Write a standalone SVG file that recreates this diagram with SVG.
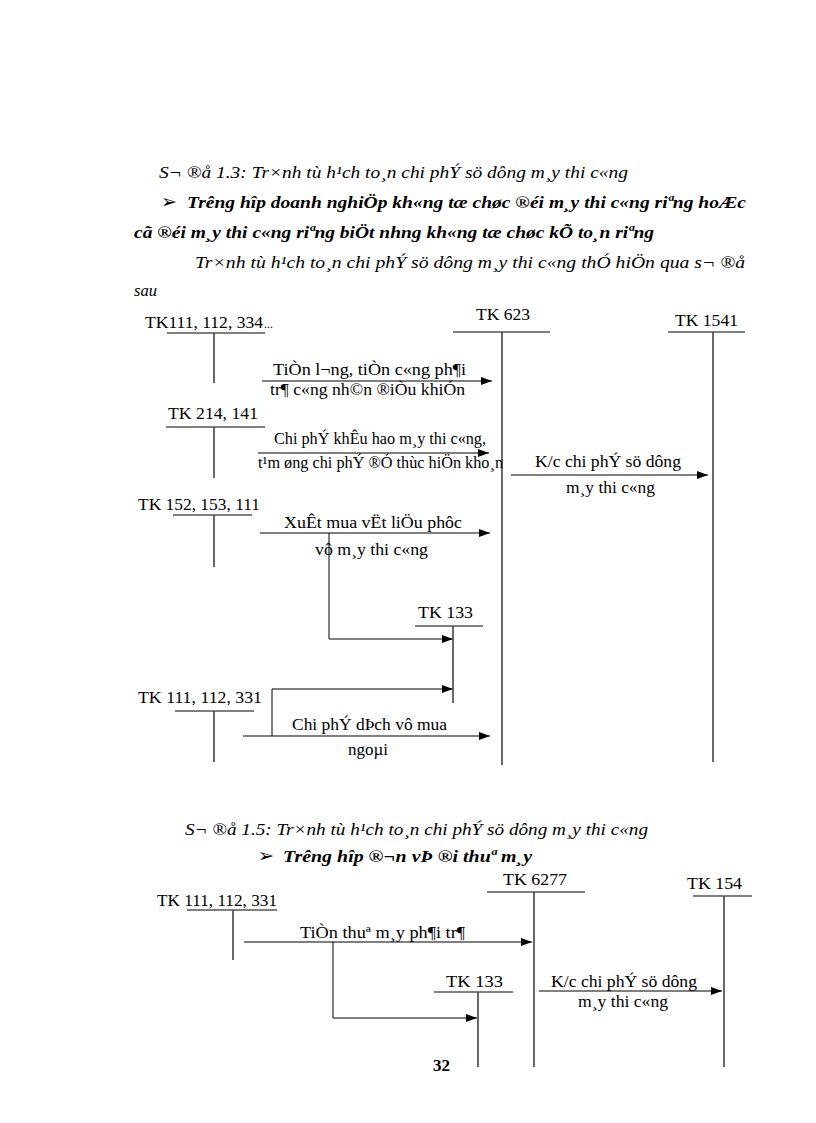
<svg xmlns="http://www.w3.org/2000/svg" width="816" height="1123" viewBox="0 0 816 1123" xml:space="preserve">
<style>
text{font-family:"Liberation Serif","Times New Roman",serif;fill:#000}
.t{font-size:16.5px}
.it{font-size:16.5px;font-style:italic}
.bi{font-size:17px;font-style:italic;font-weight:bold}
.bul{font-family:"DejaVu Sans",sans-serif;font-size:19px}
.ul{stroke:#000;stroke-width:1}
.vl{stroke:#444;stroke-width:1.6}
.ar{stroke:#000;stroke-width:1;fill:none}
.br{stroke:#000;stroke-width:1;fill:none}
</style>
<defs>
<marker id="ah" markerUnits="userSpaceOnUse" markerWidth="12" markerHeight="10" refX="11" refY="4" orient="auto">
<path d="M0,0 L11,4 L0,8 Z" fill="#000"/>
</marker>
</defs>
<rect width="816" height="1123" fill="#fff"/>
<g id="heading1">
<text class="it" x="159" y="178" textLength="469" lengthAdjust="spacingAndGlyphs">S¬ ®å 1.3:  Tr×nh tù h¹ch to¸n chi phÝ sö dông m¸y thi c«ng</text>
<text class="bul" x="161" y="208">➢</text>
<text class="bi" x="187" y="208" textLength="559" lengthAdjust="spacingAndGlyphs">Trêng  hîp doanh nghiÖp kh«ng tæ chøc ®éi m¸y thi c«ng riªng hoÆc</text>
<text class="bi" x="134" y="238" textLength="520" lengthAdjust="spacingAndGlyphs">cã ®éi m¸y thi c«ng riªng biÖt nhng  kh«ng tæ chøc kÕ to¸n riªng</text>
<text class="it" x="195" y="268" textLength="550" lengthAdjust="spacingAndGlyphs">Tr×nh tù h¹ch to¸n chi phÝ sö dông m¸y thi c«ng thÓ hiÖn qua s¬ ®å</text>
<text class="it" x="134" y="296">sau</text>
</g>
<g id="connectors1">
<line class="ar" x1="262" y1="381" x2="492" y2="381" marker-end="url(#ah)"/>
<line class="ar" x1="258" y1="453" x2="489" y2="453" marker-end="url(#ah)"/>
<line class="ar" x1="511" y1="475" x2="708" y2="475" marker-end="url(#ah)"/>
<line class="ar" x1="260" y1="533" x2="490" y2="533" marker-end="url(#ah)"/>
<polyline class="br" points="329,533 329,639 453,639" marker-end="url(#ah)"/>
<polyline class="br" points="272,736 272,689 453,689" marker-end="url(#ah)"/>
<line class="ar" x1="243" y1="736" x2="490" y2="736" marker-end="url(#ah)"/>
</g>
<g id="tk111_112_334">
<text class="t" x="145" y="328" textLength="118" lengthAdjust="spacingAndGlyphs">TK111, 112, 334</text><text x="264" y="328" style="font-size:12px">...</text>
<line class="ul" x1="167" y1="333" x2="265" y2="333"/>
<line class="vl" x1="214" y1="333" x2="214" y2="383"/>
</g>
<g id="tk623">
<text class="t" x="476" y="320" textLength="54" lengthAdjust="spacingAndGlyphs">TK 623</text>
<line class="ul" x1="453" y1="332" x2="550" y2="332"/>
<line class="vl" x1="502" y1="332" x2="502" y2="765"/>
</g>
<g id="tk1541">
<text class="t" x="675" y="326" textLength="63" lengthAdjust="spacingAndGlyphs">TK 1541</text>
<line class="ul" x1="668" y1="332" x2="745" y2="332"/>
<line class="vl" x1="713" y1="332" x2="713" y2="762"/>
</g>
<g id="tk214_141">
<text class="t" x="168" y="419" textLength="90" lengthAdjust="spacingAndGlyphs">TK 214, 141</text>
<line class="ul" x1="166" y1="427" x2="265" y2="427"/>
<line class="vl" x1="214" y1="427" x2="214" y2="478"/>
</g>
<g id="tk152_153_111">
<text class="t" x="138" y="510" textLength="122" lengthAdjust="spacingAndGlyphs">TK 152, 153, 111</text>
<line class="ul" x1="173" y1="515" x2="252" y2="515"/>
<line class="vl" x1="214" y1="515" x2="214" y2="567"/>
</g>
<g id="tk133a">
<text class="t" x="418" y="618" textLength="55" lengthAdjust="spacingAndGlyphs">TK 133</text>
<line class="ul" x1="415" y1="626" x2="483" y2="626"/>
<line class="vl" x1="453" y1="626" x2="453" y2="703"/>
</g>
<g id="tk111_112_331a">
<text class="t" x="138" y="703" textLength="124" lengthAdjust="spacingAndGlyphs">TK 111, 112, 331</text>
<line class="ul" x1="175" y1="711" x2="254" y2="711"/>
<line class="vl" x1="214" y1="711" x2="214" y2="762"/>
</g>
<g id="labels1">
<text class="t" x="273" y="375" textLength="193" lengthAdjust="spacingAndGlyphs">TiÒn l¬ng,  tiÒn c«ng ph¶i</text>
<text class="t" x="270" y="395" textLength="195" lengthAdjust="spacingAndGlyphs">tr¶ c«ng nh©n ®iÒu khiÓn</text>
<text class="t" x="274" y="444" textLength="212" lengthAdjust="spacingAndGlyphs">Chi phÝ khÊu hao m¸y thi c«ng,</text>
<text class="t" x="258" y="468" textLength="245" lengthAdjust="spacingAndGlyphs">t¹m øng chi phÝ ®Ó thùc hiÖn kho¸n</text>
<text class="t" x="535" y="467" textLength="146" lengthAdjust="spacingAndGlyphs">K/c chi phÝ sö dông</text>
<text class="t" x="566" y="493" textLength="89" lengthAdjust="spacingAndGlyphs">m¸y thi c«ng</text>
<text class="t" x="284" y="528" textLength="178" lengthAdjust="spacingAndGlyphs">XuÊt mua vËt liÖu phôc</text>
<text class="t" x="315" y="555" textLength="113" lengthAdjust="spacingAndGlyphs">vô m¸y thi c«ng</text>
<text class="t" x="292" y="730" textLength="155" lengthAdjust="spacingAndGlyphs">Chi phÝ dÞch vô mua</text>
<text class="t" x="348" y="755" textLength="40" lengthAdjust="spacingAndGlyphs">ngoµi</text>
</g>
<g id="heading2">
<text class="it" x="185" y="835" textLength="463" lengthAdjust="spacingAndGlyphs">S¬ ®å 1.5: Tr×nh tù h¹ch to¸n chi phÝ sö dông m¸y thi c«ng</text>
<text class="bul" x="258" y="862">➢</text>
<text class="bi" x="283" y="862" textLength="249" lengthAdjust="spacingAndGlyphs">Trêng  hîp ®¬n vÞ ®i thuª m¸y</text>
</g>
<g id="connectors2">
<line class="ar" x1="244" y1="942" x2="532" y2="942" marker-end="url(#ah)"/>
<polyline class="br" points="333,942 333,1018 477,1018" marker-end="url(#ah)"/>
<line class="ar" x1="539" y1="991" x2="722" y2="991" marker-end="url(#ah)"/>
</g>
<g id="tk6277">
<text class="t" x="503" y="885" textLength="64" lengthAdjust="spacingAndGlyphs">TK 6277</text>
<line class="ul" x1="487" y1="892" x2="585" y2="892"/>
<line class="vl" x1="534" y1="892" x2="534" y2="1067"/>
</g>
<g id="tk154">
<text class="t" x="687" y="889" textLength="55" lengthAdjust="spacingAndGlyphs">TK 154</text>
<line class="ul" x1="693" y1="896" x2="752" y2="896"/>
<line class="vl" x1="724" y1="896" x2="724" y2="1067"/>
</g>
<g id="tk111_112_331b">
<text class="t" x="157" y="906" textLength="120" lengthAdjust="spacingAndGlyphs">TK 111, 112, 331</text>
<line class="ul" x1="187" y1="910" x2="277" y2="910"/>
<line class="vl" x1="233" y1="910" x2="233" y2="960"/>
</g>
<g id="tk133b">
<text class="t" x="446" y="987" style="font-size:17.5px" textLength="57" lengthAdjust="spacingAndGlyphs">TK 133</text>
<line class="ul" x1="434" y1="992" x2="513" y2="992"/>
<line class="vl" x1="478" y1="992" x2="478" y2="1067"/>
</g>
<g id="labels2">
<text class="t" x="300" y="938" textLength="165" lengthAdjust="spacingAndGlyphs">TiÒn thuª m¸y ph¶i tr¶</text>
<text class="t" x="551" y="987" textLength="146" lengthAdjust="spacingAndGlyphs">K/c chi phÝ sö dông</text>
<text class="t" x="578" y="1007" textLength="90" lengthAdjust="spacingAndGlyphs">m¸y thi c«ng</text>
</g>
<text x="433" y="1071" style="font-size:17px;font-weight:bold">32</text>
</svg>
